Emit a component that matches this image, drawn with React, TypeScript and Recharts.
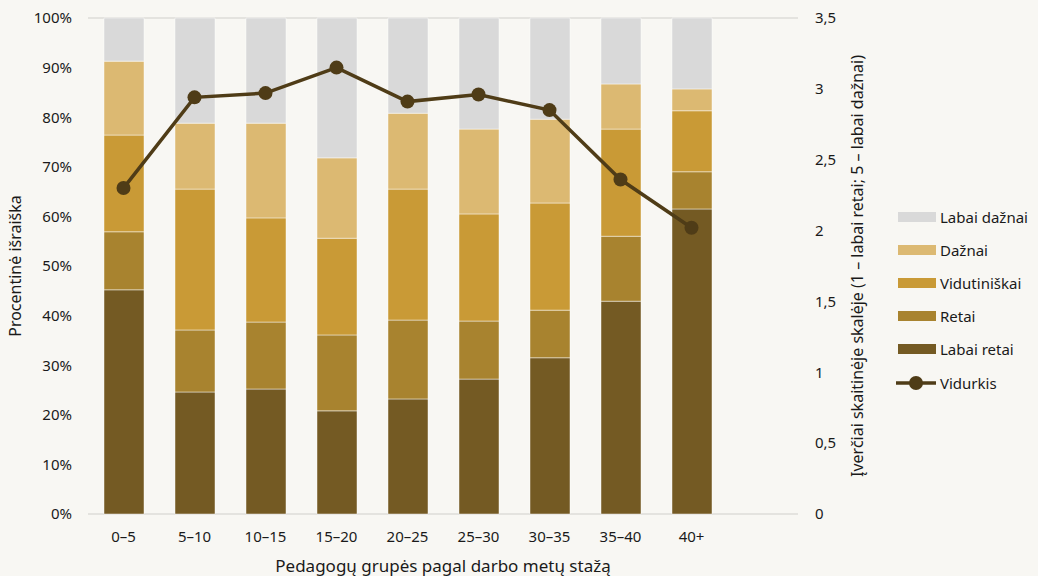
import React from 'react';
import { ComposedChart, Bar, Line, XAxis, YAxis, CartesianGrid, Legend } from 'recharts';

// stažo grupės (paskutinė tuščia vieta dešinėje)
const groups = ['0–5', '5–10', '10–15', '15–20', '20–25', '25–30', '30–35', '35–40', '40+', ''];

const labaiRetai = [45.2, 24.6, 25.2, 20.8, 23.2, 27.2, 31.5, 42.9, 61.5];
const retai = [11.7, 12.5, 13.5, 15.3, 15.9, 11.7, 9.6, 13.1, 7.5];
const vidutiniskai = [19.5, 28.4, 21.0, 19.5, 26.4, 21.6, 21.6, 21.6, 12.3];
const daznai = [14.9, 13.3, 19.1, 16.2, 15.3, 17.1, 16.9, 9.1, 4.4];
const labaiDaznai = [8.7, 21.2, 21.2, 28.2, 19.2, 22.4, 20.4, 13.3, 14.3];
const vidurkis = [2.3, 2.94, 2.97, 3.15, 2.91, 2.96, 2.85, 2.36, 2.02];

const leftTicks = [0, 10, 20, 30, 40, 50, 60, 70, 80, 90, 100];
const rightTicks = [0, 0.5, 1, 1.5, 2, 2.5, 3, 3.5];

const data = groups.map((g, i) => ({
  group: g,
  labaiRetai: labaiRetai[i],
  retai: retai[i],
  vidutiniskai: vidutiniskai[i],
  daznai: daznai[i],
  labaiDaznai: labaiDaznai[i],
  vidurkis: vidurkis[i],
}));

const FONT = '"Noto Sans", "Open Sans", sans-serif';
const LINE_COLOR = '#4f3c17';

const barSeries = [
  { key: 'labaiRetai', name: 'Labai retai', color: '#745a23' },
  { key: 'retai', name: 'Retai', color: '#a8832f' },
  { key: 'vidutiniskai', name: 'Vidutiniškai', color: '#c99a36' },
  { key: 'daznai', name: 'Dažnai', color: '#dcb972' },
  { key: 'labaiDaznai', name: 'Labai dažnai', color: '#d9d9d9' },
];

const LegendBox = () => (
  <div style={{ fontFamily: FONT, fontSize: 15, color: '#1a1a1a' }}>
    {[...barSeries].reverse().map((s) => (
      <div key={s.key} style={{ display: 'flex', alignItems: 'center', height: 33.2 }}>
        <svg width={42} height={14}>
          <rect x={2} y={2} width={38} height={10} fill={s.color} />
        </svg>
        <span style={{ marginLeft: 2 }}>{s.name}</span>
      </div>
    ))}
    <div style={{ display: 'flex', alignItems: 'center', height: 33.2 }}>
      <svg width={42} height={16}>
        <line x1={0} y1={8} x2={40} y2={8} stroke={LINE_COLOR} strokeWidth={3.5} />
        <circle cx={20} cy={8} r={7} fill={LINE_COLOR} />
      </svg>
      <span style={{ marginLeft: 2 }}>Vidurkis</span>
    </div>
  </div>
);

export default function App() {
  return (
    <div style={{ position: 'fixed', left: 0, top: 0, width: 1038, height: 576, background: '#f8f7f3' }}>
      <ComposedChart
        width={1038}
        height={576}
        data={data}
        margin={{ top: 18, right: 6, bottom: 0, left: 0 }}
        barSize={40}
      >
        <CartesianGrid vertical={false} stroke="#dedcd8" strokeWidth={1.5} />
        <XAxis
          dataKey="group"
          height={62}
          tickLine={false}
          axisLine={false}
          tickSize={0}
          tickMargin={17}
          tick={{ fill: '#1a1a1a', fontSize: 15, fontFamily: FONT }}
          label={{ value: 'Pedagogų grupės pagal darbo metų stažą', position: 'insideBottom', offset: 4, fill: '#1a1a1a', fontSize: 17, fontFamily: FONT }}
        />
        <YAxis
          yAxisId="left"
          width={88}
          domain={[0, 100]}
          ticks={leftTicks}
          tickFormatter={(v: number) => `${v}%`}
          tickLine={false}
          axisLine={false}
          tickSize={0}
          tickMargin={16}
          tick={{ fill: '#1a1a1a', fontSize: 15, fontFamily: FONT }}
          label={{ value: 'Procentinė išraiška', angle: -90, position: 'center', dx: -29, fill: '#1a1a1a', fontSize: 16, fontFamily: FONT }}
        />
        <YAxis
          yAxisId="right"
          orientation="right"
          width={92}
          domain={[0, 3.5]}
          ticks={rightTicks}
          tickFormatter={(v: number) => String(v).replace('.', ',')}
          tickLine={false}
          axisLine={false}
          tickSize={0}
          tickMargin={17}
          tick={{ fill: '#1a1a1a', fontSize: 15, fontFamily: FONT, textAnchor: 'start' }}
          label={{ value: 'Įverčiai skaitinėje skalėje (1 – labai retai; 5 – labai dažnai)', angle: -90, position: 'center', dx: 13, fill: '#1a1a1a', fontSize: 16, fontFamily: FONT }}
        />
        <Legend
          layout="vertical"
          align="right"
          verticalAlign="middle"
          content={() => <LegendBox />}
          wrapperStyle={{ left: 896, top: 200, width: 142 }}
        />
        {barSeries.map((s) => (
          <Bar
            key={s.key}
            yAxisId="left"
            dataKey={s.key}
            name={s.name}
            stackId="a"
            fill={s.color}
            stroke="rgba(255,255,255,0.45)"
            strokeWidth={1}
            isAnimationActive={false}
          />
        ))}
        <Line
          yAxisId="right"
          dataKey="vidurkis"
          name="Vidurkis"
          type="linear"
          stroke={LINE_COLOR}
          strokeWidth={3.5}
          dot={{ r: 7, fill: LINE_COLOR, stroke: LINE_COLOR, strokeWidth: 0 }}
          activeDot={false}
          isAnimationActive={false}
        />
      </ComposedChart>
    </div>
  );
}
